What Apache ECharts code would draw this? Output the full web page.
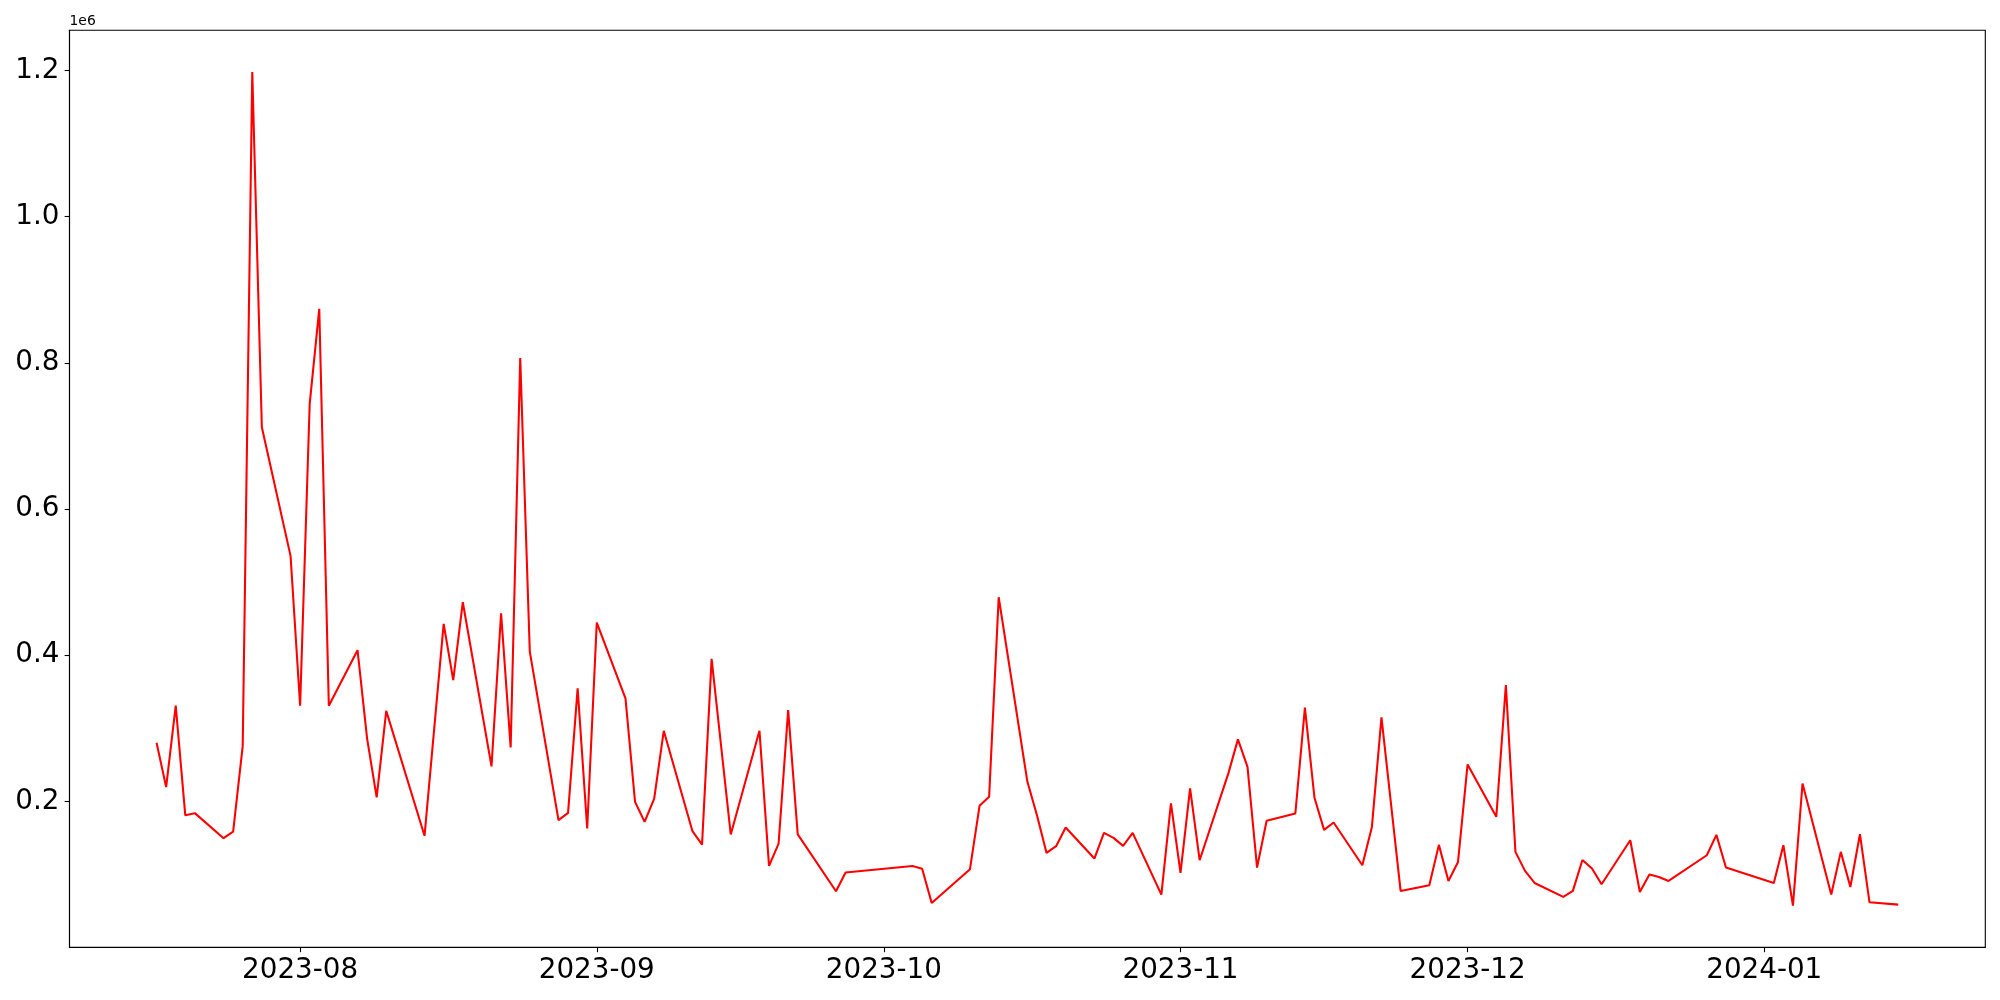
<!DOCTYPE html>
<html>
<head>
<meta charset="utf-8">
<script src="https://cdn.jsdelivr.net/npm/echarts@6/dist/echarts.min.js"></script>
<style>
html,body{margin:0;padding:0;background:#fff;}
#chart{width:2000px;height:1000px;}
</style>
</head>
<body>
<div id="chart"></div>
<script>
// ---- data ----
const dates = [
  '2023-07-17','2023-07-18','2023-07-19','2023-07-20','2023-07-21',
  '2023-07-24','2023-07-25','2023-07-26','2023-07-27','2023-07-28',
  '2023-07-31','2023-08-01','2023-08-02','2023-08-03','2023-08-04',
  '2023-08-07','2023-08-08','2023-08-09','2023-08-10',
  '2023-08-14','2023-08-16','2023-08-17','2023-08-18',
  '2023-08-21','2023-08-22','2023-08-23','2023-08-24','2023-08-25',
  '2023-08-28','2023-08-29','2023-08-30','2023-08-31','2023-09-01',
  '2023-09-04','2023-09-05','2023-09-06','2023-09-07','2023-09-08',
  '2023-09-11','2023-09-12','2023-09-13','2023-09-15',
  '2023-09-18','2023-09-19','2023-09-20','2023-09-21','2023-09-22',
  '2023-09-26','2023-09-27',
  '2023-10-04','2023-10-05','2023-10-06',
  '2023-10-10','2023-10-11','2023-10-12','2023-10-13',
  '2023-10-16','2023-10-17','2023-10-18','2023-10-19','2023-10-20',
  '2023-10-23','2023-10-24','2023-10-25','2023-10-26','2023-10-27',
  '2023-10-30','2023-10-31','2023-11-01','2023-11-02','2023-11-03',
  '2023-11-06','2023-11-07','2023-11-08','2023-11-09','2023-11-10',
  '2023-11-13','2023-11-14','2023-11-15','2023-11-16','2023-11-17',
  '2023-11-20','2023-11-21','2023-11-22','2023-11-24',
  '2023-11-27','2023-11-28','2023-11-29','2023-11-30','2023-12-01',
  '2023-12-04','2023-12-05','2023-12-06','2023-12-07','2023-12-08',
  '2023-12-11','2023-12-12','2023-12-13','2023-12-14','2023-12-15',
  '2023-12-18','2023-12-19','2023-12-20','2023-12-21','2023-12-22',
  '2023-12-26','2023-12-27','2023-12-28',
  '2024-01-02','2024-01-03','2024-01-04','2024-01-05',
  '2024-01-08','2024-01-09','2024-01-10','2024-01-11','2024-01-12',
  '2024-01-15'
];
const values = [
  280300,219600,331000,181000,184000,
  149700,158800,275700,1198000,712000,
  536000,331000,744000,874000,331000,
  407000,286000,205500,324000,
  153000,443000,366000,472600,
  248000,457500,274000,806800,405000,
  174400,184400,354800,163000,444700,
  341000,199500,172000,204000,296700,
  159300,141000,395000,154800,
  296700,111800,142400,325000,155000,
  77100,102700,
  111800,108000,61000,
  107300,194000,206300,479400,
  226900,181200,129600,138800,164400,
  121900,157000,150200,139200,157000,
  72600,197300,102200,217800,119600,
  238400,284900,247400,109600,173500,
  183500,328300,205000,161100,171200,
  112700,165200,315000,77600,
  85300,140600,91300,117300,250700,
  179000,359300,131000,105000,88500,
  69400,77600,120000,108200,86700,
  147000,76200,100000,96700,91200,
  126400,154300,109600,
  88500,140100,57500,224600,
  72600,131000,83000,155200,62000,
  58900
];
const monthTicks = ['2023-08-01','2023-09-01','2023-10-01','2023-11-01','2023-12-01','2024-01-01'];
const yTicks = [200000,400000,600000,800000,1000000,1200000];
const offsetText = '1e6';

// ---- build chart ----
const parse = s => echarts.number.parseDate(s).getTime();
const tx = dates.map(parse);
const seriesData = tx.map((t, i) => [t, values[i]]);
const xSpan = tx[tx.length - 1] - tx[0];
const xMin = tx[0] - 0.05 * xSpan;
const xMax = tx[tx.length - 1] + 0.05 * xSpan;
const vMin = Math.min(...values), vMax = Math.max(...values);
const ySpan = vMax - vMin;
const yMin = vMin - 0.05 * ySpan;
const yMax = vMax + 0.05 * ySpan;
const xTickVals = monthTicks.map(parse);

const FONT = 'DejaVu Sans';
const chart = echarts.init(document.getElementById('chart'), null, {renderer: 'canvas'});
chart.setOption({
  animation: false,
  backgroundColor: '#ffffff',
  grid: {
    left: 69.5, right: 14.7, top: 30.3, bottom: 52.7,
    show: true, borderColor: '#000', borderWidth: 1.1,
    backgroundColor: 'transparent',
    containLabel: false, outerBoundsMode: 'none'
  },
  xAxis: {
    type: 'value',
    min: xMin, max: xMax,
    axisLine: {show: true, lineStyle: {color: '#000', width: 1.1}},
    axisTick: {show: true, length: 4.9, lineStyle: {color: '#000', width: 1.1}, customValues: xTickVals},
    axisLabel: {
      show: true, color: '#000', fontFamily: FONT, fontSize: 27.78, margin: 9,
      customValues: xTickVals,
      formatter: v => echarts.time.format(v, '{yyyy}-{MM}', false),
      hideOverlap: false
    },
    splitLine: {show: false}
  },
  yAxis: {
    type: 'value',
    min: yMin, max: yMax,
    axisLine: {show: true, lineStyle: {color: '#000', width: 1.1}},
    axisTick: {show: true, length: 4.9, lineStyle: {color: '#000', width: 1.1}, customValues: yTicks},
    axisLabel: {
      show: true, color: '#000', fontFamily: FONT, fontSize: 27.78, margin: 10,
      customValues: yTicks,
      formatter: v => (v / 1e6).toFixed(1)
    },
    splitLine: {show: false}
  },
  graphic: [{
    type: 'text', left: 69.5, top: 14.5,
    style: {text: offsetText, fontFamily: FONT, fontSize: 13.9, fill: '#000'}
  }],
  series: [{
    type: 'line',
    data: seriesData,
    showSymbol: false,
    symbol: 'none',
    lineStyle: {color: '#ff0000', width: 2.08},
    itemStyle: {color: '#ff0000'}
  }]
});
</script>
</body>
</html>
